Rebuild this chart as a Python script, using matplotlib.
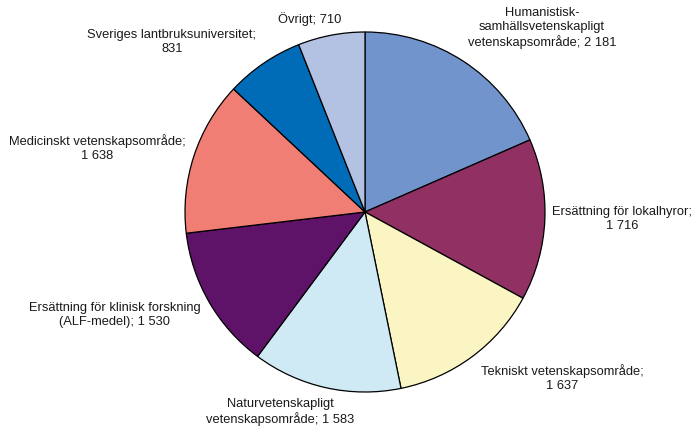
import matplotlib
matplotlib.use("Agg")
import matplotlib.pyplot as plt

labels = [
    "Humanistisk-\nsamhällsvetenskapligt\nvetenskapsområde; 2 181",
    "Ersättning för lokalhyror;\n1 716",
    "Tekniskt vetenskapsområde;\n1 637",
    "Naturvetenskapligt\nvetenskapsområde; 1 583",
    "Ersättning för klinisk forskning\n(ALF-medel); 1 530",
    "Medicinskt vetenskapsområde;\n1 638",
    "Sveriges lantbruksuniversitet;\n831",
    "Övrigt; 710",
]
values = [2181, 1716, 1637, 1583, 1530, 1638, 831, 710]
colors = ["#7194CC", "#903063", "#FAF5C3", "#CFEAF5", "#5E1268", "#F07E74", "#006CB8", "#B3C2E2"]

# label centre positions in pixel coordinates (x, y from top)
label_pos = [(542, 28), (622, 219), (562, 378), (280, 412), (115, 315), (97, 148), (172, 42), (310, 19)]

W, H = 694, 428
fig = plt.figure(figsize=(W / 100, H / 100), dpi=100)
ax = fig.add_axes([0, 0, 1, 1])

ax.pie(values, colors=colors, startangle=90, counterclock=False,
       center=(365, H - 212), radius=180,
       wedgeprops=dict(edgecolor="black", linewidth=0.9), frame=True)
ax.set_xlim(0, W)
ax.set_ylim(0, H)
ax.set_aspect("equal")
ax.axis("off")

for lab, (px, py) in zip(labels, label_pos):
    ax.text(px, H - py, lab, ha="center", va="center", fontsize=9.3,
            family="Liberation Sans", color="#1a1a1a", linespacing=1.2)

fig.savefig("out.png", dpi=100)
